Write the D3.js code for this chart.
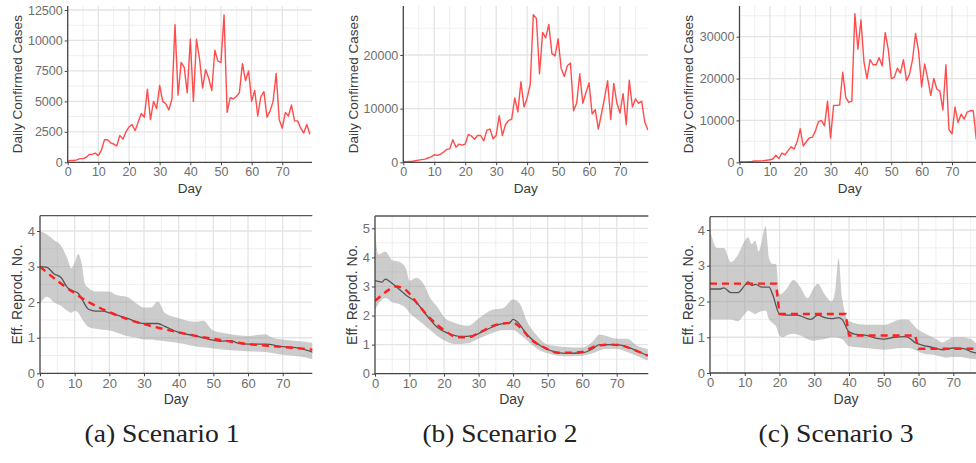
<!DOCTYPE html>
<html>
<head>
<meta charset="utf-8">
<script src="https://cdn.jsdelivr.net/npm/d3@7"></script>
<style>
body { margin: 0; background: #fff; }
svg { display: block; font-family: "Liberation Sans", Arial, sans-serif; }
</style>
</head>
<body>
<svg width="976" height="463"></svg>
<script>
// daily confirmed cases, day 0..79
var days = d3.range(0, 80);
var cases1 = [100,150,150,200,300,300,400,650,650,750, 550,1000,1850,1850,1600,1500,1350,2200,1900,2500,
    2900,3100,2600,3300,4000,3700,6000,3500,5000,4400, 6300,5000,4800,4300,5200,11300,5500,8200,7800,5700,
    10100,5000,10100,8500,6100,7600,6900,5900,9200,8300, 8200,12100,4100,5300,5200,5400,5700,8100,6700,7500,
    5000,5900,3800,5400,5800,3700,4200,5000,7300,3500, 2800,4100,3800,4700,3400,3400,2800,2400,3100,2300];
var cases2 = [100,100,150,200,300,400,500,600,800,1000, 1400,1300,1500,1900,2400,2500,4200,2800,3400,3200,
    3400,5200,4900,4300,5000,5000,4000,6000,6200,4400, 5000,8700,5000,7000,7800,8000,12000,9400,15000,10300,
    12000,14500,27500,26800,16500,24200,23200,25700,20300,19800, 23000,17500,16000,18000,18500,9600,11000,16500,11000,13000,
    14800,9000,9800,6200,9000,12000,15200,8000,14700,11000, 9200,12800,7000,15300,10300,11800,11000,11400,7500,6000];
var cases3 = [100,100,100,150,200,300,300,350,400,500, 600,800,1700,900,2200,1800,2800,3700,3200,4900,
    8000,3900,4900,5800,6000,7500,9700,10000,8700,14600, 5800,13600,13600,13700,21500,15500,14300,14600,35500,27000,
    34000,24000,20000,24500,23300,23300,25000,23000,31000,27000, 20000,20300,22500,21300,24500,19500,21000,24500,30800,26500,
    18000,23500,20000,16000,20000,17500,17000,12500,23300,7800, 6800,13200,9500,11500,10300,12000,12300,12300,5500,6500];

// effective reproduction number: credible band, estimate, true value
var bandDays1 = [0,2,4,6,8,9,10,11,12,13,14,16,20,22,25,28,30,32,34,36,40,45,47,50,55,60,65,67,70,75,79];
var hi1 = [4.0,3.9,3.75,3.6,3.2,2.95,3.1,3.35,3.1,2.5,2.4,2.3,2.3,2.2,2.15,1.95,1.85,1.85,2.02,1.7,1.55,1.45,1.48,1.2,1.1,1.05,1.1,1.0,0.95,0.9,0.85];
var lo1 = [1.95,2.15,2.0,1.9,1.75,1.7,1.75,1.7,1.55,1.4,1.3,1.25,1.2,1.15,1.05,1.0,0.95,0.95,0.92,0.9,0.85,0.75,0.73,0.7,0.65,0.62,0.6,0.57,0.52,0.47,0.38];
var estDays1 = [0,2,4,6,8,10,11,12,14,16,18,20,25,30,34,36,40,45,50,52,55,57,60,65,70,75,79];
var est1 = [3.0,2.98,2.8,2.7,2.4,2.3,2.25,2.1,1.8,1.75,1.75,1.7,1.55,1.4,1.4,1.32,1.15,1.05,0.93,0.9,0.92,0.85,0.82,0.82,0.75,0.7,0.58];
var trueDays1 = [0,5,10,15,20,25,30,35,40,45,50,55,60,65,70,75,79];
var true1 = [3.0,2.6,2.25,1.95,1.72,1.53,1.38,1.26,1.15,1.05,0.97,0.89,0.82,0.78,0.74,0.7,0.66];

var bandDays2 = [0,1,3,5,7,9,10,12,14,16,18,20,23,27,30,34,37,40,42,44,47,50,55,60,63,65,67,70,73,76,79];
var hi2 = [4.9,4.1,4.2,3.9,3.85,3.6,3.2,3.3,3.1,2.6,2.3,1.95,1.75,1.65,1.9,2.2,2.25,2.55,2.4,1.8,1.3,1.0,0.92,0.9,1.1,1.35,1.3,1.2,1.2,0.95,0.85];
var lo2 = [2.2,2.4,2.6,2.45,2.4,2.25,2.1,1.9,1.7,1.5,1.3,1.15,1.02,1.05,1.2,1.4,1.5,1.5,1.35,1.15,0.85,0.7,0.6,0.62,0.7,0.8,0.85,0.85,0.75,0.6,0.45];
var estDays2 = [0,2,3,5,7,9,12,15,18,21,25,28,32,36,39,40,41,44,48,52,55,60,63,65,70,73,76,79];
var est2 = [3.2,3.15,3.25,3.1,2.9,2.7,2.45,2.0,1.6,1.4,1.28,1.3,1.5,1.7,1.75,1.87,1.8,1.35,0.95,0.75,0.7,0.72,0.85,1.0,1.0,0.92,0.78,0.62];
var trueDays2 = [0,3,6,8,10,13,16,20,24,27,30,35,40,42,45,50,53,56,60,64,68,71,75,79];
var true2 = [2.5,2.8,3.0,2.95,2.75,2.3,1.9,1.5,1.25,1.25,1.4,1.68,1.75,1.6,1.2,0.85,0.72,0.72,0.75,0.95,1.0,0.98,0.82,0.62];

var bandDays3 = [0,2,4,6,8,10,11,12,13,14,16,17,18,19,20,21,22,24,26,28,30,31,33,35,36,37,38,40,45,50,55,57,58,60,61,65,67,68,70,72,75,77,79];
var hi3 = [4.0,3.5,3.5,3.1,3.3,3.7,3.8,3.6,3.7,3.4,4.1,3.2,3.05,3.05,2.2,2.25,2.35,2.6,2.4,2.1,2.4,2.5,2.2,2.0,2.3,3.2,2.1,1.45,1.35,1.35,1.5,1.5,1.4,1.2,1.15,0.95,0.85,0.9,1.0,1.0,0.95,0.8,0.7];
var lo3 = [1.5,1.5,1.5,1.5,1.45,1.65,1.75,1.7,1.65,1.7,1.75,1.5,1.4,1.3,1.05,1.0,1.05,1.1,1.05,0.95,0.9,0.92,0.95,1.0,1.0,0.98,0.95,0.75,0.7,0.65,0.7,0.7,0.68,0.6,0.55,0.5,0.45,0.43,0.45,0.45,0.4,0.38,0.35];
var estDays3 = [0,3,4,6,8,10,11,12,13,15,17,18,20,22,25,29,31,33,35,37,38,40,42,45,48,50,53,56,57,59,61,64,67,70,73,75,77,79];
var est3 = [2.35,2.35,2.38,2.25,2.25,2.45,2.55,2.45,2.48,2.4,2.4,2.2,1.65,1.62,1.62,1.5,1.62,1.55,1.52,1.55,1.5,1.15,1.08,1.05,0.97,0.95,1.0,1.02,1.0,0.85,0.78,0.72,0.65,0.7,0.68,0.6,0.55,0.5];
var trueDays3 = [0,19,20,39,40,59,60,79];
var true3 = [2.5,2.5,1.65,1.65,1.05,1.05,0.68,0.68];

var xTicks = [0,10,20,30,40,50,60,70];
var caseTicks1 = [0,2500,5000,7500,10000,12500];
var caseTicks2 = [0,10000,20000];
var caseTicks3 = [0,10000,20000,30000];
var rTicks1 = [0,1,2,3,4];
var rTicks2 = [0,1,2,3,4,5];
var rTicks3 = [0,1,2,3,4];
var captions = ["(a) Scenario 1", "(b) Scenario 2", "(c) Scenario 3"];

var svg = d3.select('svg');
var clipId = 0;

function makePanel(p) {
    var x = d3.scaleLinear().domain([0, 70]).range([p.left, p.x70]);
    var y = d3.scaleLinear().domain([0, p.yRef]).range([p.bottom, p.yRefPx]);
    var g = svg.append('g');

    var id = 'clip' + (clipId++);
    svg.append('clipPath').attr('id', id)
        .append('rect')
        .attr('x', p.left).attr('y', p.top)
        .attr('width', Math.min(p.right, 976) - p.left)
        .attr('height', p.bottom - p.top);

    // grid: minor first, then major
    var step = p.ticks[1] - p.ticks[0];
    var minorY = [];
    for (var v = step / 2; y(v) > p.top; v += step) minorY.push(v);
    var majorY = p.ticks.filter(function(d) { return d > 0; });
    var minorX = [5,15,25,35,45,55,65,75,85].filter(function(d) { return x(d) < p.right; });
    var grid = g.append('g').attr('clip-path', 'url(#' + id + ')');
    grid.selectAll('.gmy').data(minorY).enter().append('line')
        .attr('x1', p.left).attr('x2', p.right)
        .attr('y1', function(d) { return y(d); }).attr('y2', function(d) { return y(d); })
        .attr('stroke', '#efefef').attr('stroke-width', 1);
    grid.selectAll('.gmx').data(minorX).enter().append('line')
        .attr('y1', p.top).attr('y2', p.bottom)
        .attr('x1', function(d) { return x(d); }).attr('x2', function(d) { return x(d); })
        .attr('stroke', '#efefef').attr('stroke-width', 1);
    grid.selectAll('.gy').data(majorY).enter().append('line')
        .attr('x1', p.left).attr('x2', p.right)
        .attr('y1', function(d) { return y(d); }).attr('y2', function(d) { return y(d); })
        .attr('stroke', '#e4e4e4').attr('stroke-width', 1.3);
    grid.selectAll('.gx').data(xTicks.slice(1)).enter().append('line')
        .attr('y1', p.top).attr('y2', p.bottom)
        .attr('x1', function(d) { return x(d); }).attr('x2', function(d) { return x(d); })
        .attr('stroke', '#e4e4e4').attr('stroke-width', 1.3);

    var plot = g.append('g').attr('clip-path', 'url(#' + id + ')');
    p.draw(plot, x, y);

    // axes
    var ax = g.append('g')
        .attr('transform', 'translate(0,' + p.bottom + ')')
        .call(d3.axisBottom(x).tickValues(xTicks).tickSize(3).tickPadding(2));
    var ay = g.append('g')
        .attr('transform', 'translate(' + p.left + ',0)')
        .call(d3.axisLeft(y).tickValues(p.ticks).tickSize(3).tickPadding(2).tickFormat(d3.format('d')));
    [ax, ay].forEach(function(a) {
        a.select('.domain').remove();
        a.selectAll('line').attr('stroke', '#444');
        a.selectAll('text').attr('fill', '#6e6e6e')
            .style('font-size', p.tickSize + 'px')
            .style('font-family', '"Liberation Sans", Arial, sans-serif');
    });
    g.append('line').attr('x1', p.left).attr('x2', p.left)
        .attr('y1', p.top).attr('y2', p.bottom + 0.5)
        .attr('stroke', '#444').attr('stroke-width', 1.3);
    g.append('line').attr('x1', p.left).attr('x2', p.right)
        .attr('y1', p.bottom).attr('y2', p.bottom)
        .attr('stroke', '#444').attr('stroke-width', 1.3);
    if (p.topLine) {
        g.append('line').attr('x1', p.left).attr('x2', p.right)
            .attr('y1', p.top).attr('y2', p.top)
            .attr('stroke', '#555').attr('stroke-width', 1.3);
    }

    g.append('text')
        .attr('x', (p.left + Math.min(p.right, 976)) / 2 + p.dayShift)
        .attr('y', p.dayY)
        .attr('text-anchor', 'middle')
        .attr('fill', '#3a3a3a')
        .style('font-size', p.titleSize + 'px')
        .text('Day');
    g.append('text')
        .attr('transform', 'translate(' + p.titleX + ',' + ((p.top + p.bottom) / 2) + ') rotate(-90)')
        .attr('dy', '0.35em')
        .attr('text-anchor', 'middle')
        .attr('fill', '#3a3a3a')
        .style('font-size', p.titleSize + 'px')
        .text(p.yTitle);
}

function caseDraw(values) {
    return function(plot, x, y) {
        plot.append('path')
            .datum(values)
            .attr('fill', 'none')
            .attr('stroke', '#ff3838')
            .attr('stroke-width', 1.4)
            .attr('stroke-opacity', 0.9)
            .attr('stroke-linejoin', 'round')
            .attr('d', d3.line()
                .x(function(d, i) { return x(days[i]); })
                .y(function(d) { return y(d); }));
    };
}

function rDraw(bandDays, lo, hi, estDays, est, trueDays, tru, stepped) {
    return function(plot, x, y) {
        plot.append('path')
            .datum(bandDays)
            .attr('fill', '#999')
            .attr('fill-opacity', 0.5)
            .attr('d', d3.area()
                .curve(d3.curveMonotoneX)
                .x(function(d) { return x(d); })
                .y0(function(d, i) { return y(lo[i]); })
                .y1(function(d, i) { return y(hi[i]); }));
        plot.append('path')
            .datum(estDays)
            .attr('fill', 'none')
            .attr('stroke', '#555')
            .attr('stroke-width', 1.3)
            .attr('d', d3.line()
                .curve(d3.curveMonotoneX)
                .x(function(d) { return x(d); })
                .y(function(d, i) { return y(est[i]); }));
        plot.append('path')
            .datum(trueDays)
            .attr('fill', 'none')
            .attr('stroke', '#ff1f1f')
            .attr('stroke-width', 2.4)
            .attr('stroke-dasharray', '7,5')
            .attr('d', d3.line()
                .curve(stepped ? d3.curveLinear : d3.curveMonotoneX)
                .x(function(d) { return x(d); })
                .y(function(d, i) { return y(tru[i]); }));
    };
}

var topBase = {top: 6, bottom: 162.3, tickSize: 12.5, titleSize: 13.5, dayY: 193, dayShift: 0, yTitle: 'Daily Confirmed Cases', topLine: false};
var botBase = {tickSize: 13, titleSize: 14, dayY: 404, dayShift: 0, yTitle: 'Eff. Reprod. No.', topLine: true};

var panels = [
    Object.assign({}, topBase, {left: 67.7, x70: 282.3, right: 312, yRef: 12500, yRefPx: 10, ticks: caseTicks1, titleX: 17, draw: caseDraw(cases1)}),
    Object.assign({}, topBase, {left: 403.3, x70: 620, right: 648.3, yRef: 20000, yRefPx: 55, ticks: caseTicks2, titleX: 353, draw: caseDraw(cases2)}),
    Object.assign({}, topBase, {left: 739.5, x70: 952, right: 990, yRef: 30000, yRefPx: 36.7, ticks: caseTicks3, titleX: 688, dayShift: -8, draw: caseDraw(cases3)}),
    Object.assign({}, botBase, {left: 40, x70: 282.7, right: 312.3, top: 215.7, bottom: 373.3, yRef: 4, yRefPx: 231, ticks: rTicks1, titleX: 17,
        draw: rDraw(bandDays1, lo1, hi1, estDays1, est1, trueDays1, true1, false)}),
    Object.assign({}, botBase, {left: 375, x70: 616.7, right: 648.3, top: 216, bottom: 373.7, yRef: 5, yRefPx: 228.3, ticks: rTicks2, titleX: 352,
        draw: rDraw(bandDays2, lo2, hi2, estDays2, est2, trueDays2, true2, false)}),
    Object.assign({}, botBase, {left: 710, x70: 953.3, right: 990, top: 216.7, bottom: 373, yRef: 4, yRefPx: 230, ticks: rTicks3, titleX: 688, dayShift: 3,
        draw: rDraw(bandDays3, lo3, hi3, estDays3, est3, trueDays3, true3, true)})
];

panels.forEach(makePanel);

svg.selectAll('.caption')
    .data(captions)
    .enter()
    .append('text')
    .attr('class', 'caption')
    .attr('x', function(d, i) { return [162, 500, 836][i]; })
    .attr('y', 442)
    .attr('text-anchor', 'middle')
    .attr('textLength', 155)
    .attr('lengthAdjust', 'spacingAndGlyphs')
    .attr('fill', '#222')
    .style('font-family', '"Liberation Serif", "DejaVu Serif", serif')
    .style('font-size', '25px')
    .text(function(d) { return d; });
</script>
</body>
</html>
